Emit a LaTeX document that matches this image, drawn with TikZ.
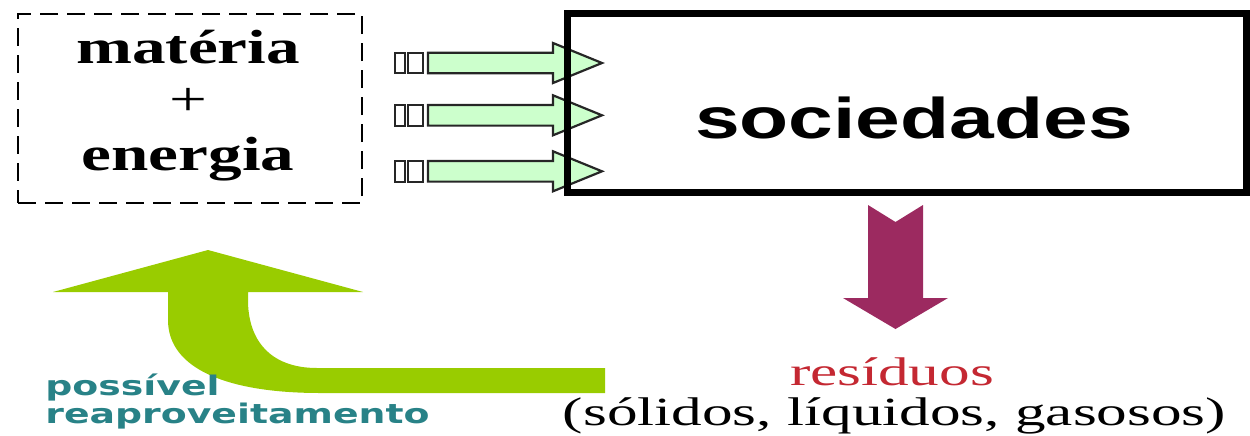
\documentclass[tikz,border=0pt]{standalone}
\usepackage{fontspec}
\newfontfamily\serifw[FakeStretch=1.4]{Liberation Serif}
\newfontfamily\serifx[FakeStretch=1.53]{Liberation Serif}
\newfontfamily\sansw[FakeStretch=1.4]{Liberation Sans}
\newfontfamily\tealw[FakeStretch=1.4]{DejaVu Sans}
\definecolor{inarrow}{RGB}{204,255,204}
\definecolor{recyc}{RGB}{153,204,0}
\definecolor{waste}{RGB}{156,42,96}
\definecolor{resred}{RGB}{196,40,50}
\definecolor{tealtxt}{RGB}{40,130,135}
\begin{document}
\begin{tikzpicture}[x=0.5pt,y=-0.5pt,
  txt/.style={inner sep=0pt, anchor=base},
  inarr/.style={fill=inarrow, draw=black!85, line width=1.1pt, line join=miter},
  stripe/.style={fill=white, draw=black!85, line width=1.1pt}]
\useasboundingbox (0,0) rectangle (1250,435);
% source box
\node[draw, dash pattern=on 9pt off 4.5pt, line width=1pt, minimum width=172pt, minimum height=94.5pt, inner sep=0pt] (src) at (190,108.5) {};
\node[txt, font=\serifw\bfseries\fontsize{24}{24}\selectfont] (mat) at (188,63) {matéria};
\node[txt, font=\serifw\fontsize{24}{24}\selectfont] (plus) at (188,115) {+};
\node[txt, font=\serifw\bfseries\fontsize{24}{24}\selectfont] (ene) at (188,170) {energia};
% input arrows
\foreach \y in {63,115.3,171.3} {
  \draw[stripe] (395,\y-10.3) rectangle (405,\y+10.3);
  \draw[stripe] (408,\y-10.3) rectangle (423,\y+10.3);
  \draw[inarr] (428,\y-10.3) -- (553,\y-10.3) -- (553,\y-20) -- (602,\y) -- (553,\y+20) -- (553,\y+10.3) -- (428,\y+10.3) -- cycle;
}
% societies box
\node[draw, line width=3.5pt, minimum width=339.5pt, minimum height=89.5pt, inner sep=0pt] (socbox) at (906.5,102.5) {};
\node[txt, font=\sansw\bfseries\fontsize{28.7}{30}\selectfont] (soc) at (914,138) {sociedades};
% waste arrow
\fill[waste] (868,205) -- (895.5,222) -- (923,205) -- (923,298) -- (948,298) -- (895.5,329) -- (843,298) -- (868,298) -- cycle;
\node[txt, text=resred, font=\serifx\fontsize{20}{20}\selectfont] (res) at (892,385) {resíduos};
\node[txt, font=\serifx\fontsize{20}{20}\selectfont] (kinds) at (894.5,425) {(sólidos, líquidos, gasosos)};
% recycle arrow
\fill[recyc] (605,368) -- (317,368) .. controls (270,368) and (248,340) .. (248,300) -- (248,292) -- (363,292) -- (208,250) -- (53,292) -- (168,292) -- (168,320) .. controls (168,370) and (230,393) .. (320,393) -- (605,393) -- cycle;
\node[txt, anchor=base west, text=tealtxt, font=\tealw\bfseries\fontsize{13.5}{14}\selectfont] (pos) at (45,395) {possível};
\node[txt, anchor=base west, text=tealtxt, font=\tealw\bfseries\fontsize{13.5}{14}\selectfont] (reap) at (45,423) {reaproveitamento};
\end{tikzpicture}
\end{document}
